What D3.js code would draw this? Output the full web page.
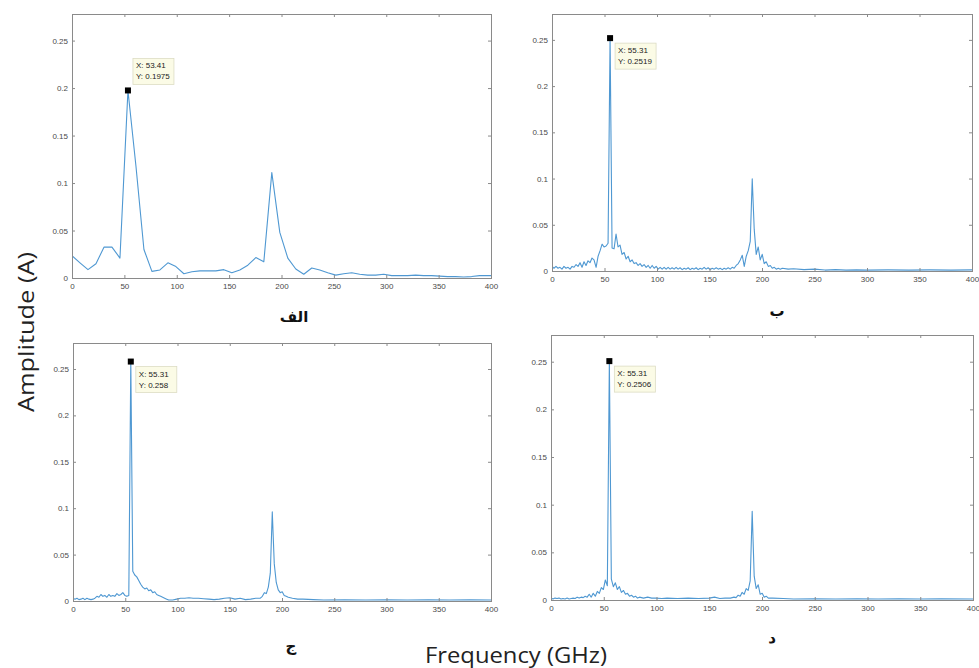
<!DOCTYPE html>
<html>
<head>
<meta charset="utf-8">
<script src="https://cdn.jsdelivr.net/npm/d3@7"></script>
<style>
  html, body { margin: 0; padding: 0; background: #fff; }
  svg { display: block; }
</style>
</head>
<body>
<svg id="chart" width="979" height="668"></svg>
<script>
// ---- Spectra: [frequency (GHz), amplitude (A)] ----
const seriesA = [
  [0,0.0235],[7.63,0.016],[15.26,0.0088],[22.89,0.015],[30.52,0.0325],[38.15,0.0325],
  [45.78,0.021],[53.41,0.1975],[61.04,0.118],[68.67,0.03],[76.30,0.007],[83.93,0.0085],
  [91.56,0.016],[99.19,0.012],[106.82,0.0045],[114.45,0.0065],[122.08,0.0075],[129.71,0.0075],
  [137.34,0.0075],[144.97,0.0088],[152.60,0.0055],[160.23,0.0085],[167.86,0.0135],[175.49,0.0215],
  [183.12,0.017],[190.75,0.111],[198.38,0.048],[206.01,0.021],[213.64,0.0095],[221.27,0.004],
  [228.90,0.0105],[236.53,0.0085],[244.16,0.0055],[251.79,0.003],[259.42,0.0045],[267.05,0.0055],
  [274.68,0.004],[282.31,0.003],[289.94,0.003],[297.57,0.004],[305.20,0.0025],[312.83,0.0025],
  [320.46,0.0025],[328.09,0.003],[335.72,0.0025],[343.35,0.0025],[350.98,0.002],[358.61,0.0015],
  [366.24,0.0015],[373.87,0.001],[381.50,0.0015],[389.13,0.0025],[396.76,0.0025],[400,0.0025]
];

const seriesB = [
  [0,0.005],[1.9,0.003],[3.8,0.005],[5.7,0.003],[7.6,0.004],[9.5,0.002],[11.4,0.005],[13.3,0.003],
  [15.3,0.004],[17.2,0.002],[19.1,0.005],[21.0,0.004],[22.9,0.007],[24.8,0.005],[26.7,0.009],
  [28.6,0.004],[30.5,0.01],[32.4,0.006],[34.3,0.011],[36.2,0.009],[38.1,0.014],[40.0,0.012],
  [42.0,0.004],[43.9,0.016],[45.8,0.022],[47.7,0.029],[49.6,0.026],[51.5,0.027],[53.4,0.03],
  [55.31,0.2519],[57.2,0.025],[59.1,0.024],[61.0,0.04],[62.9,0.026],[64.8,0.028],[66.7,0.018],
  [68.7,0.02],[70.6,0.013],[72.5,0.016],[74.4,0.01],[76.3,0.012],[78.2,0.008],[80.1,0.009],
  [82.0,0.006],[83.9,0.008],[85.8,0.005],[87.7,0.007],[89.7,0.004],[91.6,0.006],[93.5,0.003],
  [95.4,0.006],[97.3,0.003],[99.2,0.005],[101.1,0.002],[103.0,0.004],[104.9,0.002],[106.8,0.004],
  [108.7,0.002],[110.6,0.004],[112.5,0.002],[114.4,0.0035],[116.3,0.002],[118.2,0.004],
  [120.1,0.002],[122.0,0.0035],[124.0,0.0015],[125.9,0.003],[127.8,0.002],[129.7,0.0035],
  [131.6,0.0015],[133.5,0.003],[135.4,0.002],[137.3,0.0035],[139.2,0.0015],[141.1,0.003],
  [143.0,0.002],[144.9,0.004],[146.8,0.002],[148.7,0.0035],[150.6,0.0015],[152.6,0.003],
  [154.5,0.002],[156.4,0.0035],[158.3,0.002],[160.2,0.003],[162.1,0.0015],[164.0,0.003],
  [165.9,0.002],[167.8,0.0035],[169.7,0.002],[171.6,0.004],[173.5,0.003],[175.4,0.006],
  [177.4,0.008],[179.3,0.012],[181.2,0.017],[183.1,0.005],[185.0,0.016],[186.9,0.022],
  [188.8,0.032],[190.7,0.0996],[192.6,0.045],[194.5,0.018],[196.4,0.026],[198.3,0.012],
  [200.2,0.018],[202.1,0.008],[204.0,0.01],[206.0,0.005],[207.9,0.006],[209.8,0.003],
  [211.7,0.004],[213.6,0.002],[215.5,0.003],[217.4,0.002],[219.3,0.003],[225,0.002],[230,0.0025],
  [240,0.0015],[250,0.002],[260,0.001],[270,0.0015],[280,0.001],[290,0.0012],[300,0.001],
  [320,0.0012],[340,0.001],[360,0.0012],[380,0.001],[400,0.0012]
];

const seriesC = [
  [0,0.003],[1.9,0.002],[3.8,0.003],[5.7,0.0015],[7.6,0.002],[9.5,0.003],[11.4,0.0015],[13.3,0.003],
  [15.3,0.002],[17.2,0.0015],[19.1,0.002],[21.0,0.003],[22.9,0.005],[24.8,0.004],[26.7,0.007],
  [28.6,0.005],[30.5,0.006],[32.4,0.004],[34.3,0.007],[36.2,0.005],[38.1,0.006],[40.0,0.005],
  [42.0,0.008],[43.9,0.006],[45.8,0.007],[47.7,0.009],[49.6,0.006],[51.5,0.005],[53.4,0.006],
  [55.31,0.258],[57.2,0.032],[59.1,0.028],[61.0,0.026],[62.9,0.022],[64.8,0.018],[66.7,0.015],
  [68.7,0.013],[70.6,0.014],[72.5,0.011],[74.4,0.012],[76.3,0.009],[78.2,0.01],[80.1,0.007],
  [82.0,0.006],[83.9,0.005],[85.8,0.004],[87.7,0.003],[89.7,0.002],[91.6,0.001],[95.4,0.001],
  [99.2,0.002],[103,0.003],[107,0.003],[111,0.0035],[115,0.003],[120,0.003],[125,0.0025],
  [130,0.002],[135,0.0015],[140,0.002],[145,0.003],[150,0.0035],[155,0.002],[160,0.003],
  [165,0.0015],[170,0.002],[175,0.003],[179.3,0.003],[181.2,0.005],[183.1,0.009],[185.0,0.008],
  [186.9,0.015],[188.8,0.03],[190.7,0.096],[192.6,0.04],[194.5,0.02],[196.4,0.012],[198.3,0.009],
  [200.2,0.01],[202.1,0.006],[204.0,0.005],[206,0.004],[210,0.003],[215,0.002],[220,0.002],
  [230,0.0015],[240,0.001],[260,0.0012],[280,0.001],[300,0.0012],[320,0.001],[340,0.0012],
  [360,0.001],[380,0.0012],[400,0.001]
];

const seriesD = [
  [0,0.002],[1.9,0.001],[3.8,0.002],[5.7,0.0015],[7.6,0.002],[9.5,0.001],[11.4,0.0015],[13.3,0.001],
  [15.3,0.002],[17.2,0.001],[19.1,0.0015],[21.0,0.002],[22.9,0.0015],[24.8,0.003],[26.7,0.002],
  [28.6,0.003],[30.5,0.0025],[32.4,0.004],[34.3,0.003],[36.2,0.006],[38.1,0.003],[40.0,0.007],
  [42.0,0.004],[43.9,0.009],[45.8,0.007],[47.7,0.013],[49.6,0.011],[51.5,0.021],[53.4,0.015],
  [55.31,0.2506],[57.2,0.022],[59.1,0.014],[61.0,0.018],[62.9,0.011],[64.8,0.014],[66.7,0.008],
  [68.7,0.01],[70.6,0.006],[72.5,0.007],[74.4,0.004],[76.3,0.005],[78.2,0.003],[80.1,0.004],
  [82.0,0.002],[83.9,0.003],[87.7,0.002],[91.6,0.003],[95.4,0.002],[99.2,0.002],[105,0.0015],
  [110,0.002],[120,0.0015],[130,0.002],[140,0.0015],[150,0.002],[155,0.003],[160,0.0015],
  [165,0.002],[170,0.002],[173.5,0.003],[175.4,0.0025],[177.4,0.005],[179.3,0.004],[181.2,0.008],
  [183.1,0.006],[185.0,0.012],[186.9,0.01],[188.8,0.02],[190.7,0.093],[192.6,0.025],[194.5,0.012],
  [196.4,0.016],[198.3,0.006],[200.2,0.007],[202.1,0.003],[204.0,0.004],[206,0.002],[210,0.002],
  [220,0.0015],[230,0.001],[250,0.0012],[270,0.001],[290,0.0012],[310,0.001],[330,0.0012],
  [350,0.001],[370,0.0012],[400,0.001]
];

// ---- Data tips (marked peaks) ----
const tipA = { x: 53.41, y: 0.1975, xText: "53.41", yText: "0.1975" };
const tipB = { x: 55.31, y: 0.2519, xText: "55.31", yText: "0.2519" };
const tipC = { x: 55.31, y: 0.258,  xText: "55.31", yText: "0.258" };
const tipD = { x: 55.31, y: 0.2506, xText: "55.31", yText: "0.2506" };

// ---- Axis ticks & labels ----
const xTicks = [0, 50, 100, 150, 200, 250, 300, 350, 400];
const xTickLabels = ["0", "50", "100", "150", "200", "250", "300", "350", "400"];
const yTicks = [0, 0.05, 0.1, 0.15, 0.2, 0.25];
const yTickLabels = ["0", "0.05", "0.1", "0.15", "0.2", "0.25"];
const xDomain = [0, 400];
const yDomain = [0, 0.278];

const panelLabels = ["الف", "ب", "ج", "د"];
const xTitle = "Frequency (GHz)";
const yTitle = "Amplitude (A)";

// ---- Layout of the four axes ----
const layout = [
  { series: seriesA, tip: tipA, label: panelLabels[0], x0: 72,  x1: 491, y0: 14,  y1: 278, lx: 294, ly: 322, tipUp: true },
  { series: seriesB, tip: tipB, label: panelLabels[1], x0: 552, x1: 972, y0: 14,  y1: 271, lx: 777, ly: 316, tipUp: false },
  { series: seriesC, tip: tipC, label: panelLabels[2], x0: 73,  x1: 491, y0: 343, y1: 601, lx: 291, ly: 651, tipUp: false },
  { series: seriesD, tip: tipD, label: panelLabels[3], x0: 551, x1: 973, y0: 335, y1: 600, lx: 772, ly: 643, tipUp: false }
];

const LINE = "#4f98d2";
const AXIS = "#8a8a8a";
const TICKTXT = "#4a4a4a";
const TICKFONT = "Liberation Sans, Arial, sans-serif";

const svg = d3.select("#chart");

layout.forEach((p, i) => {
  const x = d3.scaleLinear().domain(xDomain).range([p.x0, p.x1]);
  const y = d3.scaleLinear().domain(yDomain).range([p.y1, p.y0]);
  const g = svg.append("g").attr("class", "panel");

  const clipId = "clip" + i;
  svg.append("clipPath").attr("id", clipId)
    .append("rect")
    .attr("x", p.x0).attr("y", p.y0)
    .attr("width", p.x1 - p.x0).attr("height", p.y1 - p.y0);

  // spectrum trace
  const line = d3.line().x(d => x(d[0])).y(d => y(d[1]));
  g.append("path")
    .datum(p.series)
    .attr("clip-path", `url(#${clipId})`)
    .attr("fill", "none")
    .attr("stroke", LINE)
    .attr("stroke-width", 1.1)
    .attr("stroke-linejoin", "round")
    .attr("d", line);

  // axes with inward ticks on all four sides
  const styleAxis = sel => {
    sel.select(".domain").remove();
    sel.selectAll(".tick line").attr("stroke", AXIS);
    sel.selectAll(".tick text")
      .attr("fill", TICKTXT)
      .style("font-family", TICKFONT)
      .style("font-size", "8px");
  };

  g.append("g").attr("transform", `translate(0,${p.y1})`)
    .call(d3.axisBottom(x).tickValues(xTicks).tickFormat((d, k) => xTickLabels[k])
      .tickSizeInner(-3).tickSizeOuter(0).tickPadding(5))
    .call(styleAxis);
  g.append("g").attr("transform", `translate(0,${p.y0})`)
    .call(d3.axisTop(x).tickValues(xTicks).tickFormat("").tickSizeInner(-3).tickSizeOuter(0))
    .call(styleAxis);
  g.append("g").attr("transform", `translate(${p.x0},0)`)
    .call(d3.axisLeft(y).tickValues(yTicks).tickFormat((d, k) => yTickLabels[k])
      .tickSizeInner(-3).tickSizeOuter(0).tickPadding(4))
    .call(styleAxis);
  g.append("g").attr("transform", `translate(${p.x1},0)`)
    .call(d3.axisRight(y).tickValues(yTicks).tickFormat("").tickSizeInner(-3).tickSizeOuter(0))
    .call(styleAxis);

  g.append("rect")
    .attr("x", p.x0 + 0.5).attr("y", p.y0 + 0.5)
    .attr("width", p.x1 - p.x0).attr("height", p.y1 - p.y0)
    .attr("fill", "none").attr("stroke", AXIS).attr("stroke-width", 1);

  // data tip: marker + value box
  const mx = x(p.tip.x), my = y(p.tip.y);
  const tg = g.append("g");
  const bw = 41, bh = 26;
  const bx = mx + 5;
  const by = p.tipUp ? my - bh - 6 : my + 5;
  tg.append("rect")
    .attr("x", bx).attr("y", by).attr("width", bw).attr("height", bh)
    .attr("fill", "#fbfbe6").attr("stroke", "#dcdcc4").attr("stroke-width", 0.8);
  tg.append("text")
    .attr("x", bx + 3).attr("y", by + 10)
    .attr("fill", "#222").style("font-family", TICKFONT).style("font-size", "8px")
    .text("X: " + p.tip.xText);
  tg.append("text")
    .attr("x", bx + 3).attr("y", by + 21)
    .attr("fill", "#222").style("font-family", TICKFONT).style("font-size", "8px")
    .text("Y: " + p.tip.yText);
  tg.append("rect")
    .attr("x", mx - 3).attr("y", my - 3).attr("width", 6).attr("height", 6)
    .attr("fill", "#000");

  // sub-figure label
  svg.append("text")
    .attr("x", p.lx).attr("y", p.ly)
    .attr("text-anchor", "middle")
    .attr("direction", "rtl")
    .style("font-family", "DejaVu Sans, sans-serif")
    .style("font-weight", "bold")
    .style("font-size", "15px")
    .attr("fill", "#111")
    .text(p.label);
});

// shared axis titles
svg.append("text")
  .attr("x", 516).attr("y", 663)
  .attr("text-anchor", "middle")
  .attr("textLength", 182).attr("lengthAdjust", "spacingAndGlyphs")
  .style("font-family", "Open Sans, sans-serif")
  .style("font-size", "22px")
  .attr("fill", "#222")
  .text(xTitle);

svg.append("text")
  .attr("transform", "translate(34,332) rotate(-90)")
  .attr("text-anchor", "middle")
  .attr("textLength", 160).attr("lengthAdjust", "spacingAndGlyphs")
  .style("font-family", "Open Sans, sans-serif")
  .style("font-size", "22px")
  .attr("fill", "#222")
  .text(yTitle);
</script>
</body>
</html>
